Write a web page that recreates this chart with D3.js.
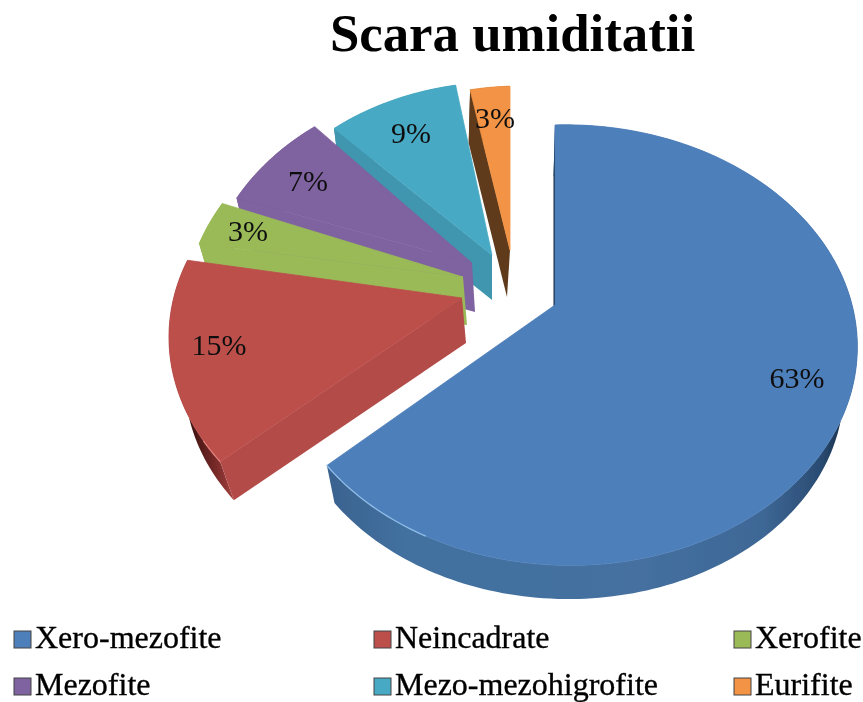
<!DOCTYPE html>
<html><head><meta charset="utf-8">
<script src="https://cdn.jsdelivr.net/npm/d3@7/dist/d3.min.js"></script>
<style>html,body{margin:0;padding:0;background:#fff;overflow:hidden}svg{display:block}text{font-family:"Liberation Serif",serif}</style>
</head><body><svg id="c" width="863" height="702"></svg>
<script>
// data
const categories=["Xero-mezofite","Neincadrate","Xerofite","Mezofite","Mezo-mezohigrofite","Eurifite"];
const values=[63,15,3,7,9,3];
const titleText="Scara umiditatii";
// styles
const topColors=["#4e7fba","#bd4f4c","#9aba58","#7f62a0","#47a9c3","#f39344"];
const cutColors=["#16263c","#b34b48","#9aba58","#7f62a0","#3f96ae","#5f3b1c"];
const wallColors=["url(#wb)","url(#wr)","#8aa84e","#6f548c","#3a8ba3","#5f3b1c"];
// layout for each exploded slice: apex, x/y radius factors, depth offset, angular nudge (degrees)
const apexes=[[555,305],[462,298],[463,277],[472,263],[492,255],[510,250]];
const radialX=[1,1.06,1.01,0.97,0.93,0.89];
const radialY=[1,1.02,1.04,1,0.96,0.91];
const depthX=[-1.5,4,4,3,0,-3];
const depthY=[44,45,48,49,45,47];
const startNudge=[0,0,-1.5,-2,-0.8,0];
const endNudge=[0,0,0,1.5,1.4,0];
const labelPos=[[797,378],[219,345],[248,231],[308,181],[411,133],[495,118]];
const legendX=[14,374,734],legendY=[631,678];

const svg=d3.select("#c");
const defs=svg.append("defs");
defs.append("filter").attr("id","soft").attr("x","-5%").attr("y","-5%").attr("width","110%").attr("height","110%")
  .append("feGaussianBlur").attr("stdDeviation",0.6);
const grad=(id,x1,x2,stops)=>{const g=defs.append("linearGradient").attr("id",id).attr("gradientUnits","userSpaceOnUse").attr("x1",x1).attr("x2",x2).attr("y1",0).attr("y2",0);
  stops.forEach(s=>g.append("stop").attr("offset",s[0]).attr("stop-color",s[1]));};
grad("wb",325,857,[[0,"#3a628f"],[0.15,"#42709f"],[0.6,"#446f9f"],[0.82,"#3e6896"],[0.93,"#2b4c73"],[1,"#0f2135"]]);
grad("wr",190,235,[[0,"#3f1312"],[0.6,"#7a2b29"],[1,"#a84543"]]);

const root=svg.append("g").attr("filter","url(#soft)");
const P=0.182,Q=-0.044,SY=212.8,SX=284;
const proj=(a,i)=>{const u=Math.sin(a),v=Math.cos(a),d=1+P*v+Q*u;
  return [SX*radialX[i]*u/d,-SY*radialY[i]*v/d];};
const topPt=(a,i)=>{const q=proj(a,i);return [apexes[i][0]+q[0],apexes[i][1]+q[1]];};
const K=0.96;
const botPt=(a,i)=>{const q=proj(a,i);return [apexes[i][0]+depthX[i]+K*q[0],apexes[i][1]+depthY[i]+K*q[1]];};
const arcAngles=(a0,a1)=>{const n=Math.max(8,Math.ceil((a1-a0)*48));return d3.range(n+1).map(k=>a0+(a1-a0)*k/n);};
const line=d3.line();
const rad=d=>d*Math.PI/180;
const arcs=d3.pie().sort(null).value(d=>d)(values).map((s,i)=>({
  startAngle:s.startAngle+rad(startNudge[i]),endAngle:s.endAngle+rad(endNudge[i])}));

// draw back to front
d3.range(values.length).reverse().forEach(i=>{
  const s=arcs[i],angs=arcAngles(s.startAngle,s.endAngle);
  const g=root.append("g");
  const A=apexes[i],B=[A[0]+depthX[i],A[1]+depthY[i]];
  g.append("path").attr("d",line(angs.map(a=>topPt(a,i)).concat(angs.slice().reverse().map(a=>botPt(a,i))))+"Z")
    .attr("fill",wallColors[i]);
  g.append("path").attr("d",line([A,topPt(s.startAngle,i),botPt(s.startAngle,i),B])+"Z").attr("fill",cutColors[i]);
  g.append("path").attr("d",line([A].concat(angs.map(a=>topPt(a,i))))+"Z").attr("fill",topColors[i])
    .attr("stroke",topColors[i]).attr("stroke-width",0.8).attr("stroke-linejoin","round");
});
// rim highlights
const hl=(i,a0,a1,c,w)=>root.append("path").attr("d",line(arcAngles(a0,a1).map(a=>topPt(a,i)))).attr("fill","none").attr("stroke",c).attr("stroke-width",w);
hl(0,arcs[0].endAngle-0.42,arcs[0].endAngle,"#8fbde8",1.3);
hl(1,arcs[1].startAngle,arcs[1].startAngle+0.1,"#e0807c",1.3);

// percent labels
root.append("g").selectAll("text").data(values).join("text")
  .attr("x",(d,i)=>labelPos[i][0]).attr("y",(d,i)=>labelPos[i][1]+10)
  .attr("text-anchor","middle").attr("font-size",30).attr("fill","#111").text(d=>d+"%");

// title
root.append("text").attr("x",512.5).attr("y",51).attr("text-anchor","middle")
  .attr("font-size",52.8).attr("font-weight","bold").attr("fill","#000").text(titleText);

// legend
const lg=root.append("g").selectAll("g").data(categories).join("g")
  .attr("transform",(d,i)=>`translate(${legendX[i%3]},${legendY[Math.floor(i/3)]})`);
lg.append("rect").attr("width",17).attr("height",17).attr("fill",(d,i)=>topColors[i]).attr("stroke","#444").attr("stroke-width",1);
lg.append("text").attr("x",21).attr("y",17).attr("font-size",32).attr("fill","#000")
  .attr("stroke","#000").attr("stroke-width",0.35).text(d=>d);
</script></body></html>
